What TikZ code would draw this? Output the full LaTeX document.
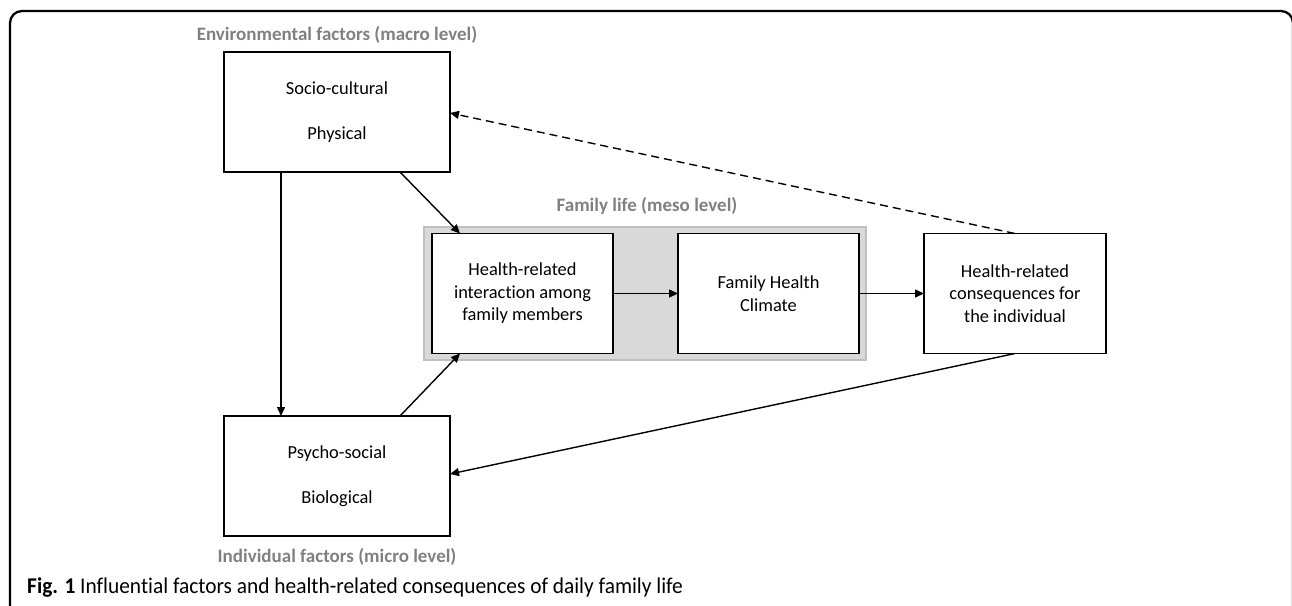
\documentclass[tikz,border=0pt]{standalone}
\usepackage{fontspec}
\setmainfont{Carlito}[Ligatures={NoCommon,NoRequired,NoContextual}]
\newfontfamily\capfont{Carlito}[FakeStretch=0.95,Ligatures={NoCommon,NoRequired,NoContextual}]
\usetikzlibrary{arrows.meta}
\definecolor{lblgray}{HTML}{808080}
\definecolor{panelfill}{HTML}{D9D9D9}
\definecolor{panelline}{HTML}{BFBFBF}
\begin{document}
\begin{tikzpicture}[x=1pt,y=-1pt,
  box/.style={draw=black,line width=1.5pt,fill=white,inner sep=0pt,outer sep=0pt,
    minimum height=120pt,align=center,font=\fontsize{18.4}{22.5}\selectfont},
  lvl/.style={text=lblgray,inner sep=0pt,font=\fontsize{19}{22}\selectfont\bfseries},
  arr/.style={line width=1.4pt,-{Triangle[length=9pt,width=8pt]}},
  darr/.style={arr,dash pattern=on 8pt off 5pt}]
\useasboundingbox (0,0) rectangle (1292,605);
\begin{scope}
\clip (0,0) rectangle (1292,605);
\draw[line width=2.3pt,rounded corners=12pt] (10,640) -- (10,11) -- (1293,11) -- (1293,640);
\end{scope}
% panel
\draw[draw=panelline,fill=panelfill,line width=1.5pt] (424,227) rectangle (866,360);
% boxes
\node[box,minimum width=226pt] (SC) at (337,112) {Socio-cultural\\[23pt]Physical};
\node[box,minimum width=226pt] (PB) at (337,476) {Psycho-social\\[23pt]Biological};
\node[box,minimum width=181pt] (HI) at (522.5,293.5) {Health-related\\interaction among\\family members};
\node[box,minimum width=181pt] (FHC) at (768.5,293.5) {Family Health\\Climate};
\node[box,minimum width=182pt] (HC) at (1015,293.5) {Health-related\\consequences for\\the individual};
% level labels
\node[lvl] (envlbl) at (337,35) {Environmental factors (macro level)};
\node[lvl] (mesolbl) at (647,206) {Family life (meso level)};
\node[lvl] (microlbl) at (337,557) {Individual factors (micro level)};
% caption
\node[anchor=base west,inner sep=0pt,font=\capfont\fontsize{22.5}{26}\selectfont] (cap) at (27,593) {\textbf{Fig. 1} Influential factors and health-related consequences of daily family life};
% connectors
\draw[arr] ([xshift=-56pt]SC.south) -- ([xshift=-56pt]PB.north);
\draw[arr] ([xshift=63pt]SC.south) -- ([xshift=-62.5pt]HI.north);
\draw[arr] ([xshift=63pt]PB.north) -- ([xshift=-62.5pt]HI.south);
\draw[arr] (HI.east) -- (FHC.west);
\draw[arr] (FHC.east) -- (HC.west);
\draw[darr] (HC.north) -- ([yshift=-1pt]SC.east);
\draw[arr] (HC.south) -- ([yshift=2pt]PB.east);
\end{tikzpicture}
\end{document}
